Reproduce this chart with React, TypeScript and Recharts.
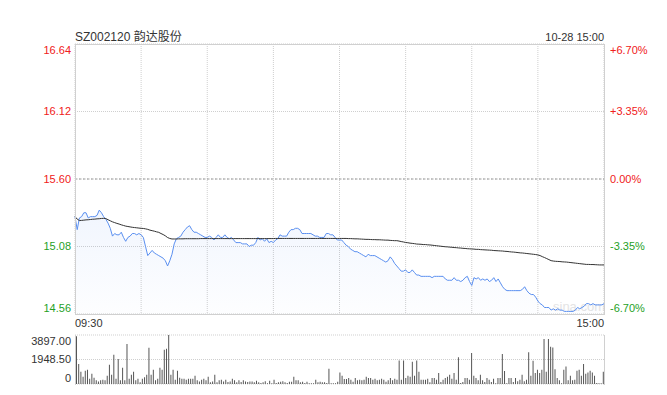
import {
  ComposedChart, Area, Line, XAxis, YAxis, CartesianGrid, ReferenceLine, BarChart, Bar,
} from "recharts";

// 分时 prices, one per minute 09:30..11:30 + 13:01..15:00
const prices = [
  15.31, 15.21, 15.30, 15.31, 15.34, 15.34, 15.30, 15.31, 15.31, 15.31,
  15.32, 15.36, 15.34, 15.31, 15.29, 15.26, 15.22, 15.16, 15.18, 15.17,
  15.17, 15.19, 15.15, 15.12, 15.15, 15.16, 15.18, 15.18, 15.17, 15.18,
  15.17, 15.15, 15.08, 15.01, 15.03, 15.05, 15.03, 15.02, 15.01, 15.00,
  14.99, 14.97, 14.93, 14.97, 15.02, 15.10, 15.14, 15.15, 15.16, 15.19,
  15.21, 15.23, 15.24, 15.21, 15.19, 15.19, 15.18, 15.17, 15.16, 15.15,
  15.15, 15.16, 15.15, 15.13, 15.15, 15.17, 15.15, 15.15, 15.17, 15.15,
  15.14, 15.15, 15.13, 15.11, 15.11, 15.11, 15.10, 15.10, 15.10, 15.08,
  15.09, 15.09, 15.11, 15.15, 15.13, 15.14, 15.12, 15.14, 15.11, 15.12,
  15.11, 15.13, 15.14, 15.17, 15.16, 15.16, 15.16, 15.19, 15.21, 15.21,
  15.22, 15.22, 15.21, 15.18, 15.18, 15.18, 15.18, 15.18, 15.17, 15.16,
  15.16, 15.15, 15.15, 15.15, 15.18, 15.18, 15.17, 15.17, 15.15, 15.13,
  15.13, 15.13, 15.11, 15.09, 15.08, 15.06, 15.05, 15.04, 15.04, 15.03,
  15.02, 15.01, 15.00, 15.02, 15.01, 15.01, 15.01, 15.00, 14.99, 14.98,
  14.97, 14.96, 14.97, 15.00, 14.98, 14.95, 14.93, 14.91, 14.89, 14.89,
  14.90, 14.88, 14.88, 14.90, 14.88, 14.86, 14.86, 14.85, 14.85, 14.85,
  14.85, 14.85, 14.84, 14.85, 14.85, 14.85, 14.85, 14.85, 14.83, 14.82,
  14.82, 14.82, 14.84, 14.82, 14.82, 14.81, 14.82, 14.84, 14.85, 14.81,
  14.78, 14.84, 14.83, 14.84, 14.82, 14.83, 14.82, 14.83, 14.81, 14.82,
  14.84, 14.81, 14.83, 14.80, 14.77, 14.75, 14.74, 14.74, 14.74, 14.74,
  14.74, 14.74, 14.74, 14.75, 14.77, 14.74, 14.72, 14.71, 14.71, 14.69,
  14.66, 14.64, 14.63, 14.61, 14.61, 14.61, 14.59, 14.60, 14.59, 14.60,
  14.59, 14.59, 14.58, 14.58, 14.58, 14.58, 14.58, 14.59, 14.61, 14.60,
  14.61, 14.62, 14.64, 14.64, 14.63, 14.64, 14.63, 14.63, 14.63, 14.63, 14.64,
];

// 均价
const avgPrices = [
  15.310, 15.291, 15.280, 15.281, 15.283, 15.285, 15.286, 15.288, 15.290, 15.291,
  15.293, 15.294, 15.296, 15.297, 15.295, 15.286, 15.278, 15.270, 15.264, 15.258,
  15.253, 15.247, 15.242, 15.237, 15.234, 15.231, 15.228, 15.226, 15.224, 15.222,
  15.220, 15.219, 15.216, 15.212, 15.206, 15.202, 15.198, 15.193, 15.189, 15.180,
  15.172, 15.162, 15.149, 15.142, 15.138, 15.138, 15.138, 15.139, 15.139, 15.139,
  15.140, 15.140, 15.140, 15.140, 15.140, 15.140, 15.140, 15.141, 15.141, 15.141,
  15.141, 15.141, 15.141, 15.141, 15.141, 15.141, 15.141, 15.141, 15.141, 15.141,
  15.141, 15.141, 15.141, 15.141, 15.141, 15.141, 15.141, 15.141, 15.141, 15.141,
  15.141, 15.141, 15.141, 15.141, 15.141, 15.141, 15.141, 15.141, 15.141, 15.141,
  15.141, 15.142, 15.142, 15.142, 15.142, 15.142, 15.142, 15.142, 15.142, 15.142,
  15.142, 15.142, 15.142, 15.142, 15.142, 15.142, 15.142, 15.142, 15.142, 15.142,
  15.142, 15.142, 15.142, 15.142, 15.142, 15.142, 15.142, 15.142, 15.142, 15.142,
  15.142, 15.142, 15.142, 15.142, 15.141, 15.141, 15.140, 15.139, 15.139, 15.138,
  15.137, 15.136, 15.135, 15.135, 15.134, 15.133, 15.133, 15.132, 15.132, 15.131,
  15.130, 15.129, 15.129, 15.127, 15.126, 15.125, 15.125, 15.122, 15.118, 15.115,
  15.111, 15.109, 15.106, 15.104, 15.102, 15.099, 15.098, 15.097, 15.095, 15.095,
  15.093, 15.092, 15.090, 15.088, 15.086, 15.084, 15.082, 15.080, 15.078, 15.077,
  15.075, 15.074, 15.072, 15.071, 15.069, 15.068, 15.066, 15.065, 15.063, 15.062,
  15.061, 15.060, 15.058, 15.058, 15.056, 15.055, 15.054, 15.053, 15.052, 15.051,
  15.049, 15.048, 15.047, 15.046, 15.045, 15.043, 15.042, 15.040, 15.038, 15.037,
  15.035, 15.033, 15.031, 15.030, 15.028, 15.026, 15.024, 15.022, 15.020, 15.018,
  15.015, 15.010, 15.002, 14.995, 14.987, 14.979, 14.971, 14.968, 14.966, 14.965,
  14.964, 14.962, 14.961, 14.960, 14.958, 14.956, 14.954, 14.952, 14.950, 14.948,
  14.946, 14.944, 14.942, 14.942, 14.941, 14.941, 14.940, 14.939, 14.938, 14.938, 14.938,
];

// 成交量 (手)
const volumes = [
  3800, 1600, 970, 580, 1050, 1130, 420, 815, 500, 290,
  200, 290, 340, 290, 660, 1530, 740, 2320, 420, 1980,
  290, 1290, 290, 3190, 420, 740, 970, 290, 420, 130,
  420, 530, 740, 2880, 740, 1130, 290, 420, 1290, 1130,
  2720, 2800, 3897, 740, 1130, 340, 1050, 500, 420, 420,
  340, 420, 420, 420, 660, 290, 200, 340, 420, 290,
  580, 130, 200, 740, 130, 290, 340, 200, 340, 150,
  200, 420, 290, 130, 290, 150, 290, 200, 150, 200,
  200, 130, 260, 130, 80, 130, 210, 50, 260, 50,
  340, 80, 130, 180, 210, 130, 80, 180, 180, 580,
  290, 290, 130, 180, 80, 180, 50, 50, 50, 340,
  130, 180, 130, 130, 80, 1210, 50, 50, 50, 180,
  920, 660, 400, 400, 480, 340, 180, 480, 290, 340,
  290, 340, 580, 480, 480, 340, 420, 290, 340, 420,
  340, 180, 290, 480, 290, 420, 340, 1870, 340, 1870,
  480, 660, 580, 1760, 660, 1870, 970, 340, 340, 340,
  420, 130, 480, 480, 340, 870, 160, 340, 480, 580,
  740, 420, 870, 340, 2130, 80, 160, 480, 480, 340,
  2470, 660, 480, 290, 740, 290, 160, 480, 340, 160,
  420, 50, 480, 480, 2390, 1030, 50, 480, 480, 160,
  480, 210, 340, 740, 210, 340, 2530, 660, 1840, 870,
  1130, 870, 1130, 3580, 970, 3580, 2970, 2900, 1180, 480,
  290, 50, 1130, 1390, 290, 660, 290, 340, 1050, 1130,
  660, 1600, 815, 920, 1050, 920, 660, 80, 50, 50, 970,
];

const prevClose = 15.6;
const priceTicks = [14.56, 15.08, 15.6, 16.12, 16.64];
const pctLabels = ["-6.70%", "-3.35%", "0.00%", "+3.35%", "+6.70%"];
const timeTicks = [0, 30, 60, 90, 120, 150, 180, 210, 240];
const timeLabels: Record<number, string> = { 0: "09:30", 240: "15:00" };
const volTicks = [0, 1948.5, 3897];
const volLabels = ["0", "1948.50", "3897.00"];

const FONT = "Arial, 'Liberation Sans', 'Noto Sans CJK SC', sans-serif";
const RED = "#f02020";
const GREEN = "#1f9f1f";
const INK = "#333";
const BLUE = "#5a8ff0";

const priceData = prices.map((p, i) => ({ idx: i, price: p, avg: avgPrices[i] }));
const volData = volumes.map((v, i) => ({ idx: i, vol: v }));

// top/bottom labels sit inside the frame
function edgeShift(v: number, ticks: number[]) {
  if (v === ticks[ticks.length - 1]) return 6;
  if (v === ticks[0]) return -6;
  return 0;
}

function LeftPriceTick(props: any) {
  const v = props.payload.value as number;
  return (
    <text x={71} y={props.y + edgeShift(v, priceTicks)} dy="0.35em" textAnchor="end"
      fontSize={11} fontFamily={FONT} fill={v >= prevClose ? RED : GREEN}>
      {v.toFixed(2)}
    </text>
  );
}

function RightPctTick(props: any) {
  const v = props.payload.value as number;
  return (
    <text x={610} y={props.y + edgeShift(v, priceTicks)} dy="0.35em" textAnchor="start"
      fontSize={11} fontFamily={FONT} fill={v >= prevClose ? RED : GREEN}>
      {pctLabels[priceTicks.indexOf(v)]}
    </text>
  );
}

function TimeTick(props: any) {
  const v = props.payload.value as number;
  const label = timeLabels[v];
  if (!label) return <g />;
  return (
    <text x={props.x} y={323} dy="0.35em" textAnchor={v === 0 ? "start" : "end"}
      fontSize={11} fontFamily={FONT} fill={INK}>
      {label}
    </text>
  );
}

function VolTick(props: any) {
  const v = props.payload.value as number;
  return (
    <text x={71} y={props.y + edgeShift(v, volTicks)} dy="0.35em" textAnchor="end"
      fontSize={11} fontFamily={FONT} fill={INK}>
      {volLabels[volTicks.indexOf(v)]}
    </text>
  );
}

export default function App() {
  return (
    <div style={{ position: "absolute", left: 0, top: 0, width: 667, height: 395, background: "#fff", fontFamily: FONT, color: INK }}>
      <div style={{ position: "absolute", left: 75, top: 30, fontSize: 12, lineHeight: "14px" }}>SZ002120 韵达股份</div>
      <div style={{ position: "absolute", left: 0, width: 604, top: 30, fontSize: 11, lineHeight: "14px", textAlign: "right" }}>10-28 15:00</div>
      <div style={{ position: "absolute", left: 553, top: 299, fontSize: 13, color: "#e4e4e4" }}>sina.com</div>

      <div style={{ position: "absolute", left: 0, top: 0 }}>
        <ComposedChart width={667} height={330} data={priceData} margin={{ top: 44, right: 0, bottom: 0, left: 0 }}>
          <defs>
            <linearGradient id="priceFill" x1="0" y1="0" x2="0" y2="1">
              <stop offset="0%" stopColor={BLUE} stopOpacity={0.14} />
              <stop offset="100%" stopColor={BLUE} stopOpacity={0.02} />
            </linearGradient>
          </defs>
          <CartesianGrid yAxisId="left" stroke="#cfcfcf" strokeDasharray="1 1" />
          <XAxis dataKey="idx" type="number" domain={[0, 240]} ticks={timeTicks} interval={0}
            tickLine={false} axisLine={false} height={16} tick={TimeTick} />
          <YAxis yAxisId="left" orientation="left" width={75} domain={[14.56, 16.64]} ticks={priceTicks}
            interval={0} tickLine={false} axisLine={false} tick={LeftPriceTick} />
          <YAxis yAxisId="right" orientation="right" width={63} domain={[14.56, 16.64]} ticks={priceTicks}
            interval={0} tickLine={false} axisLine={false} tick={RightPctTick} />
          <ReferenceLine yAxisId="left" y={prevClose} stroke="#9a9a9a" strokeDasharray="2 2" />
          <Area yAxisId="left" type="linear" dataKey="price" stroke={BLUE} strokeWidth={1}
            fill="url(#priceFill)" baseValue="dataMin" dot={false} activeDot={false} isAnimationActive={false} />
          <Line yAxisId="right" type="linear" dataKey="avg" stroke="#333" strokeWidth={1}
            dot={false} activeDot={false} isAnimationActive={false} />
        </ComposedChart>
      </div>
      <div style={{ position: "absolute", left: 75, top: 44, width: 530, height: 271, border: "1px solid #d0d0d0", boxSizing: "border-box", pointerEvents: "none" }} />

      <div style={{ position: "absolute", left: 0, top: 330 }}>
        <BarChart width={667} height={60} data={volData} margin={{ top: 5, right: 63, bottom: 6, left: 0 }}>
          <CartesianGrid vertical={false} stroke="#cfcfcf" strokeDasharray="1 1" />
          <XAxis dataKey="idx" hide />
          <YAxis width={75} domain={[0, 3897]} ticks={volTicks} interval={0}
            tickLine={false} axisLine={false} tick={VolTick} />
          <Bar dataKey="vol" fill="#555" barSize={1} isAnimationActive={false} />
        </BarChart>
      </div>
      <div style={{ position: "absolute", left: 75, top: 335, width: 530, height: 50, borderLeft: "1px solid #d0d0d0", borderRight: "1px solid #d0d0d0", boxSizing: "border-box", pointerEvents: "none" }} />
    </div>
  );
}
